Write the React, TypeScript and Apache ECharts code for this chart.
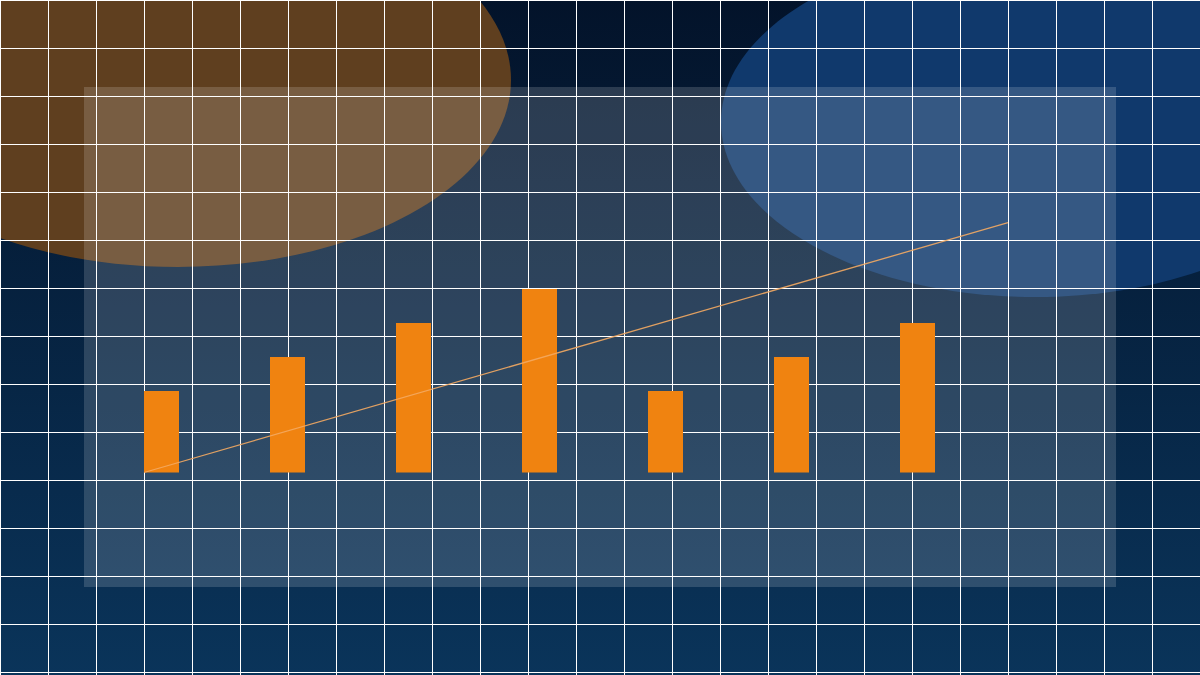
import { useEffect, useRef } from 'react'
import * as echarts from 'echarts'

// bar data (7 columns)
const categories = ['1', '2', '3', '4', '5', '6', '7']
const barValues = [24, 34, 44, 54, 24, 34, 44]

// thin trend line, start and end
const trendX = [0, 1]
const trendY = [0, 73.5]

// background grid spacing
const gridStep = 48

export default function App() {
  const chartRef = useRef<HTMLDivElement>(null)

  useEffect(() => {
    if (!chartRef.current) return
    const chart = echarts.init(chartRef.current, null, { renderer: 'svg' })

    const option: echarts.EChartsOption = {
      animation: false,
      backgroundColor: new echarts.graphic.LinearGradient(0, 0, 0, 1, [
        { offset: 0, color: '#03132a' },
        { offset: 1, color: '#0a345a' }
      ]),
      graphic: [
        {
          type: 'ellipse',
          z: -20,
          shape: { cx: 178, cy: 80, rx: 333, ry: 187 },
          style: { fill: '#5f3f1f' }
        },
        {
          type: 'ellipse',
          z: -20,
          shape: { cx: 1035, cy: 122, rx: 314, ry: 175 },
          style: { fill: '#10396c' }
        },
        {
          type: 'rect',
          z: -10,
          shape: { x: 84, y: 87, width: 1032, height: 500 },
          style: { fill: 'rgba(255,255,255,0.155)' }
        }
      ],
      grid: [
        // bars
        { left: 98.5, width: 882, top: 132.5, bottom: 202.5, containLabel: false },
        // trend line
        { left: 144, right: 192, top: 132.5, bottom: 202.5, containLabel: false },
        // full-page square grid
        { left: 0, top: 0, width: 1200, height: 675, containLabel: false }
      ],
      xAxis: [
        {
          type: 'category',
          gridIndex: 0,
          data: categories,
          show: false
        },
        {
          type: 'value',
          gridIndex: 1,
          min: 0,
          max: 1,
          show: false
        },
        {
          type: 'value',
          gridIndex: 2,
          min: 0,
          max: 1200,
          interval: gridStep,
          axisLine: { show: false },
          axisTick: { show: false },
          axisLabel: { show: false },
          splitLine: { show: true, lineStyle: { color: '#ffffff', width: 1 } }
        }
      ],
      yAxis: [
        { type: 'value', gridIndex: 0, min: 0, max: 100, show: false },
        { type: 'value', gridIndex: 1, min: 0, max: 100, show: false },
        {
          type: 'value',
          gridIndex: 2,
          inverse: true,
          min: 0,
          max: 675,
          interval: gridStep,
          axisLine: { show: false },
          axisTick: { show: false },
          axisLabel: { show: false },
          splitLine: { show: true, lineStyle: { color: '#ffffff', width: 1 } }
        }
      ],
      series: [
        {
          type: 'bar',
          xAxisIndex: 0,
          yAxisIndex: 0,
          data: barValues,
          barWidth: 35,
          itemStyle: { color: '#f08310' },
          z: 5
        },
        {
          type: 'line',
          xAxisIndex: 1,
          yAxisIndex: 1,
          data: trendX.map((x, i) => [x, trendY[i]]),
          symbol: 'none',
          lineStyle: { color: '#f4aa62', width: 1.3, opacity: 0.9 },
          z: 6
        }
      ]
    }

    chart.setOption(option)

    return () => {
      chart.dispose()
    }
  }, [])

  return (
    <div
      ref={chartRef}
      style={{ position: 'fixed', left: 0, top: 0, width: 1200, height: 675 }}
    />
  )
}
